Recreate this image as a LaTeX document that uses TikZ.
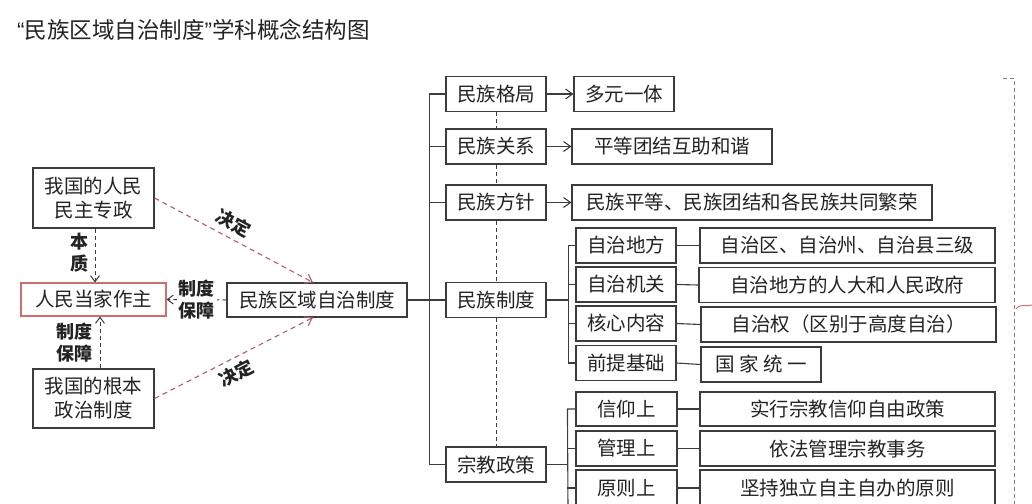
\documentclass[tikz,border=0pt]{standalone}
\usepackage{fontspec}
\setmainfont{Noto Sans CJK SC}
\newfontfamily\latinq{Liberation Sans}
\usetikzlibrary{arrows.meta}
\definecolor{boxline}{RGB}{60,60,60}
\definecolor{txt}{RGB}{35,35,35}
\definecolor{redbox}{RGB}{205,110,110}
\definecolor{reddash}{RGB}{170,95,105}
\definecolor{bracegray}{RGB}{150,115,120}
\begin{document}
\begin{tikzpicture}[x=1pt,y=-1pt,
  every node/.style={text=txt},
  box/.style={draw=boxline, line width=1.1pt, fill=white, minimum height=35pt, inner sep=0pt, align=center, font=\fontsize{19.5}{24}\selectfont},
  lab/.style={inner sep=0pt, align=center, font=\fontsize{18}{22}\selectfont\bfseries},
  conn/.style={draw=boxline, line width=1.1pt},
  dline/.style={draw=boxline, line width=1pt, dash pattern=on 4pt off 3pt},
  barb/.style={-{Straight Barb[length=7pt,width=10pt,line width=1.1pt]}},
  dasharrow/.style={draw=boxline, line width=1pt, dash pattern=on 4pt off 3pt, -{Straight Barb[length=6pt,width=9pt,line width=1pt]}},
  reddasharrow/.style={draw=reddash, line width=1.1pt, dash pattern=on 5pt off 4pt, -{Straight Barb[length=7pt,width=10pt,line width=1.1pt]}},
  bracket/.style={draw=bracegray, line width=1pt, dash pattern=on 4pt off 3pt}]
\useasboundingbox (0,0) rectangle (1032,503);
\clip (0,0) rectangle (1032,503);

% title
\node[anchor=west, inner sep=0pt, font=\fontsize{22.5}{26}\selectfont] (title) at (17,30) {{\latinq “}民族区域自治制度{\latinq ”}学科概念结构图};

% left part
\node[box, minimum width=121pt, minimum height=60pt] (pz) at (93.5,198) {我国的人民\\民主专政};
\node[box, draw=redbox, minimum width=145pt, minimum height=33pt] (rm) at (93.5,299.5) {人民当家作主};
\node[box, minimum width=121pt, minimum height=59pt] (gb) at (93.5,398.5) {我国的根本\\政治制度};
\node[box, minimum width=180pt, minimum height=34pt] (mq) at (317,300) {民族区域自治制度};

\draw[dasharrow] ([xshift=1.5pt]pz.south) -- ([xshift=1.5pt]rm.north);
\node[lab] (bz) at (79,253) {本\\质};
\draw[dasharrow] ([xshift=6.5pt]gb.north) -- ([xshift=6.5pt]rm.south);
\node[lab] (zb1) at (74,343) {制度\\保障};
\draw[dasharrow] (mq.west) -- node[lab, fill=white, inner xsep=2pt] (zb2) {制度\\保障} (rm.east);

\draw[reddasharrow] (pz.east) -- ([xshift=-4pt]mq.north);
\draw[reddasharrow] (gb.east) -- ([xshift=-4pt]mq.south);
\node[lab, rotate=-28] (jd1) at (234,223) {决定};
\node[lab, rotate=27] (jd2) at (236,373) {决定};

% level 2
\node[box, minimum width=100pt] (gj) at (496,94) {民族格局};
\node[box, minimum width=100pt] (gx) at (496,146.5) {民族关系};
\node[box, minimum width=100pt] (fz) at (496,202.5) {民族方针};
\node[box, minimum width=100pt] (zd) at (496,300) {民族制度};
\node[box, minimum width=100pt] (zj) at (496,464.5) {宗教政策};

\draw[dline] (gj.south) -- (gx.north);
\draw[dline] (gx.south) -- (fz.north);
\draw[dline] (fz.south) -- (zd.north);
\draw[dline] (zd.south) -- (zj.north);

\draw[conn] (gj.west) -- ++(-16,0) |- (zj.west);
\draw[conn] (gx.west) -- ++(-16,0);
\draw[conn] (fz.west) -- ++(-16,0);
\draw[conn] (mq.east) -- (zd.west);

% level 3 (first three)
\node[box, minimum width=100pt] (dy) at (624,94) {多元一体};
\node[box, minimum width=200pt] (pd) at (672,146.5) {平等团结互助和谐};
\node[box, minimum width=360pt] (mp) at (752,202.5) {民族平等、民族团结和各民族共同繁荣};
\draw[conn, barb] (gj.east) -- (dy.west);
\draw[conn, barb] (gx.east) -- (pd.west);
\draw[conn, barb] (fz.east) -- (mp.west);

% 民族制度 children
\node[box, minimum width=100pt] (zd1) at (626,245.5) {自治地方};
\node[box, minimum width=100pt] (zd2) at (626,284.5) {自治机关};
\node[box, minimum width=100pt] (zd3) at (626,323.5) {核心内容};
\node[box, minimum width=100pt] (zd4) at (626,363) {前提基础};
\node[box, minimum width=295pt] (d1) at (847.5,245.5) {自治区、自治州、自治县三级};
\node[box, minimum width=296pt] (d2) at (847,285) {自治地方的人大和人民政府};
\node[box, minimum width=295pt] (d3) at (848.5,324.5) {自治权（区别于高度自治）};
\node[box, minimum width=120pt] (d4) at (761,364.5) {国 家 统 一};

\coordinate (bzd) at (569,300);
\draw[conn] (zd.east) -- (bzd);
\draw[conn] (zd1.west) -- ++(-7,0) |- (zd4.west);
\draw[conn] (zd2.west) -- ++(-7,0);
\draw[conn] (zd3.west) -- ++(-7,0);
\draw[conn] (zd1.east) -- (d1.west);
\draw[conn] (zd2.east) -- (d2.west);
\draw[conn] (zd3.east) -- (d3.west);
\draw[conn] (zd4.east) -- (d4.west);

% 宗教政策 children
\node[box, minimum width=101pt, minimum height=34pt] (zj1) at (626.5,409) {信仰上};
\node[box, minimum width=101pt] (zj2) at (626.5,448.5) {管理上};
\node[box, minimum width=101pt, minimum height=36pt] (zj3) at (626.5,488) {原则上};
\node[box, minimum width=295pt, minimum height=34pt] (r1) at (847.5,409) {实行宗教信仰自由政策};
\node[box, minimum width=295pt] (r2) at (847.5,448.5) {依法管理宗教事务};
\node[box, minimum width=295pt, minimum height=36pt] (r3) at (847.5,488) {坚持独立自主自办的原则};

\coordinate (bzj) at (568,464.5);
\coordinate (bzjend) at (568,510);
\draw[conn] (zj.east) -- (bzj);
\draw[conn] (zj1.west) -- ++(-8,0) -- (bzjend);
\draw[conn] (zj2.west) -- ++(-8,0);
\draw[conn] (zj3.west) -- ++(-8,0);
\draw[conn] (zj1.east) -- (r1.west);
\draw[conn] (zj2.east) -- (r2.west);
\draw[conn] (zj3.east) -- (r3.west);

% right dashed brace
\coordinate (br0) at (1003,78);
\coordinate (br1) at (1014,78);
\coordinate (br2) at (1014,510);
\draw[bracket] (br0) -- (br1) -- (br2);
\coordinate (tip0) at (1016,309);
\coordinate (tip1) at (1032,305);
\draw[draw=redbox, line width=1pt] (tip0) .. controls (1021,303) and (1025,307) .. (tip1);
\end{tikzpicture}
\end{document}
